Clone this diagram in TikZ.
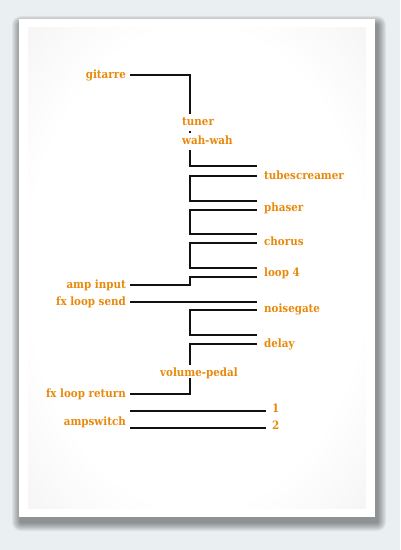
\documentclass[tikz,border=0pt]{standalone}
\usepackage{fontspec}
\setmainfont{DejaVu Serif}
\newfontfamily\slabfont{DejaVu Serif Condensed}
\usepackage{tikz}
\usetikzlibrary{calc, positioning}
\definecolor{pagebg}{HTML}{EAEFF1}
\definecolor{labelorange}{HTML}{E8890C}
\definecolor{wirecol}{HTML}{111111}
\pgfdeclareradialshading{cardglow}{\pgfpoint{0bp}{0bp}}{color(0bp)=(white); color(25bp)=(white); color(50bp)=(black!9); color(71bp)=(black!16)}

\begin{document}
\begin{tikzpicture}[x=1bp, y=-1bp,
    wire/.style={line width=2.2bp, color=wirecol},
    lbl/.style={font=\slabfont\bfseries\fontsize{11.5}{13}\selectfont, text=labelorange, inner ysep=0pt, text height=8pt, text depth=0pt},
    leftlbl/.style={lbl, anchor=east, inner xsep=4bp},
    rightlbl/.style={lbl, anchor=west, inner xsep=0pt},
    inlbl/.style={lbl, anchor=base west, inner xsep=0pt, inner ysep=3.5bp, text depth=1pt}
]
\useasboundingbox (0,0) rectangle (400,550);
\fill[pagebg] (0,0) rectangle (400,550);
\foreach \s in {1,...,9}
    \fill[black, opacity=0.05, rounded corners=\s bp] (21-\s,25-\s) rectangle (377+\s,522+\s);
\fill[white] (19,19) rectangle (375,517);
\shade[shading=cardglow] (28,28) rectangle (366,508);

\coordinate (bus) at (190,0);

\node[leftlbl] (gitarre) at (130,75) {gitarre};
\node[inlbl] (tuner) at (182,126) {tuner};
\node[inlbl] (wah) at (182,145) {wah-wah};
\node[rightlbl] (tubescreamer) at (264,176) {tubescreamer};
\node[rightlbl] (phaser) at (264,208) {phaser};
\node[rightlbl] (chorus) at (264,241.5) {chorus};
\node[rightlbl] (loop4) at (264,273) {loop 4};
\node[leftlbl] (ampin) at (130,285) {amp input};
\node[leftlbl] (send) at (130,302) {fx loop send};
\node[rightlbl] (noisegate) at (264,309) {noisegate};
\node[rightlbl] (delay) at (264,343.5) {delay};
\node[lbl, anchor=base] (volpedal) at (199,376) {volume-pedal};
\node[leftlbl] (return) at (130,394) {fx loop return};
\node[leftlbl] (ampswitch) at (130,422) {ampswitch};
\node[rightlbl] (one) at (272,408.5) {1};
\node[rightlbl] (two) at (272,426) {2};

\coordinate (ts-in) at (257,166);
\coordinate (ts-out) at (257,176);
\coordinate (ph-in) at (257,201);
\coordinate (ph-out) at (257,210);
\coordinate (ch-in) at (257,234);
\coordinate (ch-out) at (257,243);
\coordinate (lp-in) at (257,268);
\coordinate (lp-out) at (257,277);
\coordinate (ng-in) at (257,302);
\coordinate (ng-out) at (257,310);
\coordinate (dl-in) at (257,335);
\coordinate (dl-out) at (257,344);
\coordinate (sw1-a) at (130,411);
\coordinate (sw1-b) at (266,411);
\coordinate (sw2-a) at (130,428);
\coordinate (sw2-b) at (266,428);

\draw[wire] (gitarre.east) -| (bus |- tuner.north);
\draw[wire] (bus |- tuner.south) -- (bus |- wah.north);
\draw[wire] (bus |- wah.south) |- (ts-in);
\draw[wire] (ts-out) -| (bus |- ph-in) -- (ph-in);
\draw[wire] (ph-out) -| (bus |- ch-in) -- (ch-in);
\draw[wire] (ch-out) -| (bus |- lp-in) -- (lp-in);
\draw[wire] (lp-out) -| (bus |- ampin.east) -- (ampin.east);
\draw[wire] (send.east) -- (ng-in);
\draw[wire] (ng-out) -| (bus |- dl-in) -- (dl-in);
\draw[wire] (dl-out) -| ([yshift=3bp]bus |- volpedal.north);
\draw[wire] ([yshift=-2bp]bus |- volpedal.south) |- (return.east);
\draw[wire] (sw1-a) -- (sw1-b);
\draw[wire] (sw2-a) -- (sw2-b);
\end{tikzpicture}
\end{document}
